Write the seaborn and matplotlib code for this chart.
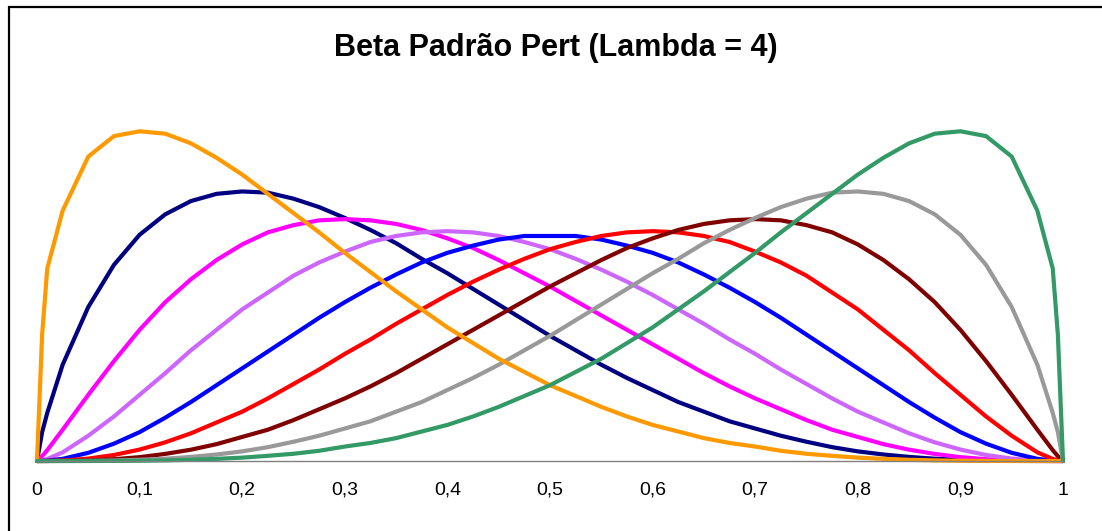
import numpy as np
import pandas as pd
import matplotlib
matplotlib.use("Agg")
import matplotlib.pyplot as plt
import matplotlib.patches as patches
import seaborn as sns

# DATA (density units)
x = [0, 0.005, 0.01, 0.025, 0.05, 0.075, 0.1, 0.125, 0.15, 0.175, 0.2, 0.225, 0.25,
     0.275, 0.3, 0.325, 0.35, 0.375, 0.4, 0.425, 0.45, 0.475, 0.5, 0.525, 0.55, 0.575,
     0.6, 0.625, 0.65, 0.675, 0.7, 0.725, 0.75, 0.775, 0.8, 0.825, 0.85, 0.875, 0.9,
     0.925, 0.95, 0.975, 0.99, 0.995, 1]

moda_01 = [0, 1.05, 1.6, 2.08, 2.53, 2.7, 2.74, 2.72, 2.64, 2.52, 2.38, 2.22, 2.06, 1.9,
           1.73, 1.57, 1.41, 1.26, 1.11, 0.98, 0.85, 0.74, 0.63, 0.54, 0.45, 0.37, 0.3,
           0.245, 0.19, 0.15, 0.12, 0.085, 0.06, 0.043, 0.028, 0.018, 0.01, 0.005, 0.002,
           0.001, 0, 0, 0, 0, 0]
moda_02 = [0, 0.24, 0.4, 0.8, 1.28, 1.63, 1.88, 2.05, 2.16, 2.22, 2.24, 2.23, 2.18, 2.11,
           2.02, 1.92, 1.81, 1.68, 1.56, 1.43, 1.3, 1.17, 1.04, 0.92, 0.8, 0.69, 0.59,
           0.49, 0.41, 0.33, 0.27, 0.21, 0.16, 0.115, 0.08, 0.054, 0.034, 0.019, 0.01,
           0.004, 0.001, 0, 0, 0, 0]
moda_03 = [0, 0.04, 0.09, 0.26, 0.55, 0.83, 1.09, 1.32, 1.51, 1.67, 1.8, 1.9, 1.96, 2.0,
           2.01, 2.0, 1.97, 1.92, 1.85, 1.77, 1.67, 1.56, 1.45, 1.33, 1.21, 1.09, 0.97,
           0.85, 0.73, 0.62, 0.52, 0.43, 0.34, 0.26, 0.2, 0.14, 0.094, 0.059, 0.032,
           0.015, 0.005, 0.001, 0, 0, 0]
moda_04 = [0, 0.006, 0.017, 0.072, 0.21, 0.37, 0.55, 0.73, 0.92, 1.09, 1.26, 1.4, 1.54,
           1.65, 1.74, 1.82, 1.87, 1.9, 1.91, 1.9, 1.87, 1.82, 1.76, 1.68, 1.59, 1.49,
           1.38, 1.26, 1.14, 1.01, 0.89, 0.76, 0.64, 0.52, 0.41, 0.32, 0.23, 0.155, 0.095,
           0.05, 0.02, 0.004, 0.0004, 0, 0]
moda_05 = [0, 0.001, 0.003, 0.018, 0.068, 0.144, 0.24, 0.36, 0.49, 0.63, 0.77, 0.91, 1.05,
           1.19, 1.32, 1.44, 1.55, 1.65, 1.73, 1.79, 1.84, 1.87, 1.87, 1.87, 1.84, 1.79,
           1.73, 1.65, 1.55, 1.44, 1.32, 1.19, 1.05, 0.91, 0.77, 0.63, 0.49, 0.36, 0.24,
           0.144, 0.068, 0.018, 0.003, 0.001, 0]
moda_06 = [0, 0, 0.0004, 0.004, 0.02, 0.05, 0.095, 0.155, 0.23, 0.32, 0.41, 0.52, 0.64,
           0.76, 0.89, 1.01, 1.14, 1.26, 1.38, 1.49, 1.59, 1.68, 1.76, 1.82, 1.87, 1.9,
           1.91, 1.9, 1.87, 1.82, 1.74, 1.65, 1.54, 1.4, 1.26, 1.09, 0.92, 0.73, 0.55,
           0.37, 0.21, 0.072, 0.017, 0.006, 0]
moda_07 = [0, 0, 0, 0.001, 0.005, 0.015, 0.032, 0.059, 0.094, 0.14, 0.2, 0.26, 0.34,
           0.43, 0.52, 0.62, 0.73, 0.85, 0.97, 1.09, 1.21, 1.33, 1.45, 1.56, 1.67, 1.77,
           1.85, 1.92, 1.97, 2.0, 2.01, 2.0, 1.96, 1.9, 1.8, 1.67, 1.51, 1.32, 1.09,
           0.83, 0.55, 0.26, 0.09, 0.04, 0]
moda_08 = [0, 0, 0, 0, 0.001, 0.004, 0.01, 0.019, 0.034, 0.054, 0.08, 0.115, 0.16,
           0.21, 0.27, 0.33, 0.41, 0.49, 0.59, 0.69, 0.8, 0.92, 1.04, 1.17, 1.3, 1.43,
           1.56, 1.68, 1.81, 1.92, 2.02, 2.11, 2.18, 2.23, 2.24, 2.22, 2.16, 2.05, 1.88,
           1.63, 1.28, 0.8, 0.4, 0.24, 0]
moda_09 = [0, 0, 0, 0, 0, 0.001, 0.002, 0.005, 0.01, 0.018, 0.028, 0.043, 0.06,
           0.085, 0.12, 0.15, 0.19, 0.245, 0.3, 0.37, 0.45, 0.54, 0.63, 0.74, 0.85, 0.98,
           1.11, 1.26, 1.41, 1.57, 1.73, 1.9, 2.06, 2.22, 2.38, 2.52, 2.64, 2.72, 2.74,
           2.7, 2.53, 2.08, 1.6, 1.05, 0]

tick_vals = [0, 0.1, 0.2, 0.3, 0.4, 0.5, 0.6, 0.7, 0.8, 0.9, 1]
tick_labels = ["0", "0,1", "0,2", "0,3", "0,4", "0,5", "0,6", "0,7", "0,8", "0,9", "1"]

# drawing order: orange and green end up on top
series = {
    "0,2": (moda_02, "#000080"),
    "0,3": (moda_03, "#FF00FF"),
    "0,4": (moda_04, "#CC66FF"),
    "0,5": (moda_05, "#0000FF"),
    "0,6": (moda_06, "#FF0000"),
    "0,7": (moda_07, "#800000"),
    "0,8": (moda_08, "#999999"),
    "0,1": (moda_01, "#FF9900"),
    "0,9": (moda_09, "#339966"),
}

rows = []
for name, (vals, _) in series.items():
    for xi, yi in zip(x, vals):
        rows.append((name, xi, yi))
df = pd.DataFrame(rows, columns=["moda", "x", "dens"])
palette = {name: col for name, (_, col) in series.items()}

sns.set_style("white")
plt.rcParams['font.family'] = ['Liberation Sans', 'DejaVu Sans']

fig = plt.figure(figsize=(11.02, 5.31), dpi=100)
ax = fig.add_axes([37 / 1102, 70 / 531, 1026 / 1102, 361 / 531])

sns.lineplot(data=df, x="x", y="dens", hue="moda", hue_order=list(series.keys()),
             palette=palette, sort=False, estimator=None, legend=False,
             linewidth=3.0, ax=ax)
for ln in ax.lines:
    ln.set_clip_on(False)
    ln.set_solid_joinstyle("round")

ax.set_xlim(0, 1)
ax.set_ylim(0, 3.0)
ax.set_xticks(tick_vals)
ax.set_xticklabels(tick_labels, fontsize=14)
ax.set_yticks([])
ax.set_xlabel("")
ax.set_ylabel("")
for s in ["left", "top", "right"]:
    ax.spines[s].set_visible(False)
ax.spines["bottom"].set_color("#808080")
ax.spines["bottom"].set_linewidth(1.0)
ax.tick_params(axis="x", direction="out", length=5, width=1, color="#808080",
               pad=10, labelcolor="black")

fig.text(556 / 1102, 1 - 48 / 531, "Beta Padrão Pert (Lambda = 4)",
         ha="center", va="center", fontsize=22, fontweight="bold", color="black")

# chart area border (runs off the right and bottom edge)
fig.patches.append(patches.Rectangle((9 / 1102, -0.05), 1.1, 1 - 7 / 531 + 0.05,
                                     transform=fig.transFigure, fill=False,
                                     edgecolor="black", linewidth=1.6))

fig.savefig("out.png", dpi=100)
